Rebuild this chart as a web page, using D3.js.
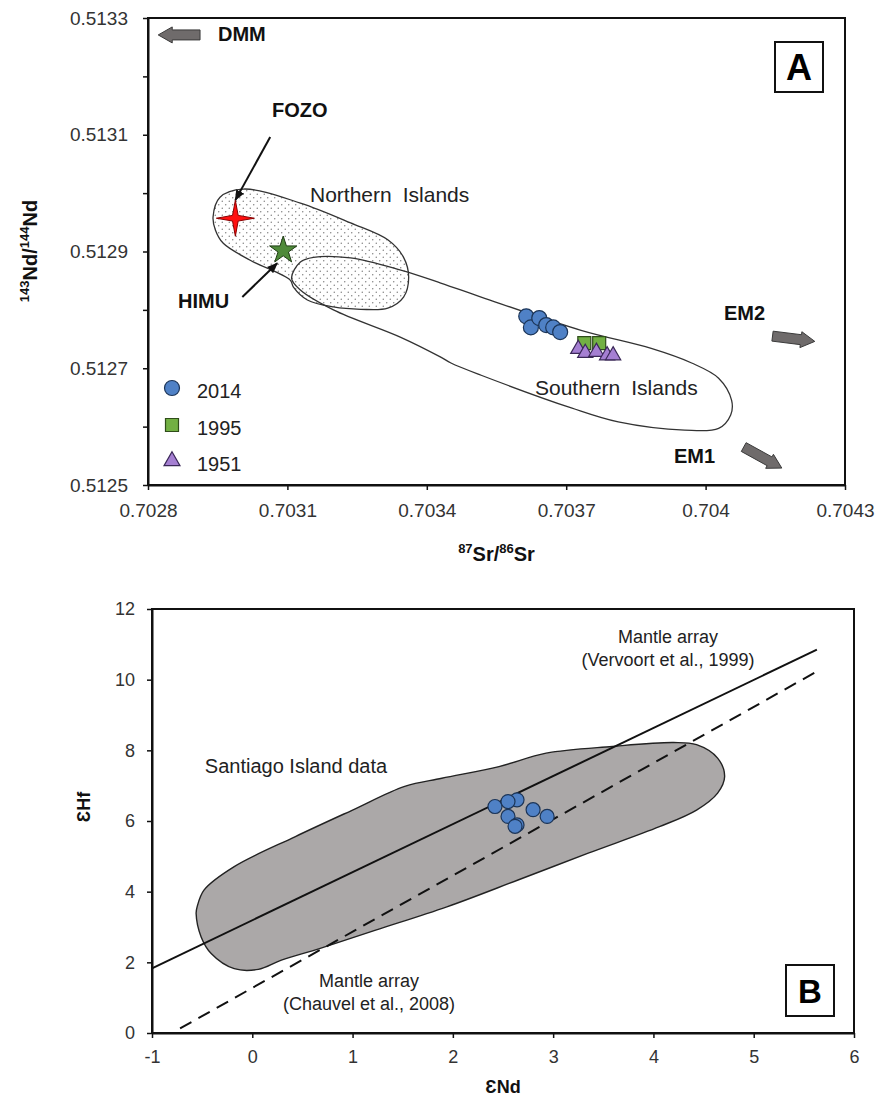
<!DOCTYPE html>
<html>
<head>
<meta charset="utf-8">
<script src="https://cdn.jsdelivr.net/npm/d3@7"></script>
<style>
  body { margin: 0; background: #fff; }
  svg { display: block; }
  text { font-family: "Liberation Sans", Arial, sans-serif; }
</style>
</head>
<body>
<div id="chart"></div>
<script>
// ---------- Panel A data ----------
const srTicks = [0.7028, 0.7031, 0.7034, 0.7037, 0.7040, 0.7043];
const srTickLabels = ["0.7028", "0.7031", "0.7034", "0.7037", "0.704", "0.7043"];
const ndTicks = [0.5125, 0.5126, 0.5127, 0.5128, 0.5129, 0.5130, 0.5131, 0.5132, 0.5133];
const ndTickLabels = ["0.5125", "", "0.5127", "", "0.5129", "", "0.5131", "", "0.5133"];

const legendYears = ["2014", "1995", "1951"];

// [87Sr/86Sr, 143Nd/144Nd]
const pts2014 = [[0.703614, 0.512789], [0.703624, 0.512770], [0.703642, 0.512786],
                 [0.703657, 0.512774], [0.703672, 0.512770], [0.703687, 0.512762]];
const pts1995 = [[0.703739, 0.512743], [0.703771, 0.512743]];
const pts1951 = [[0.703726, 0.512733], [0.703741, 0.512726], [0.703765, 0.512728],
                 [0.703788, 0.512722], [0.703801, 0.512722]];

const fozo = [0.702988, 0.512957];
const himu = [0.703091, 0.512902];

const northernOutline = [
  [0.702940, 0.512959], [0.702955, 0.512993], [0.703005, 0.513007], [0.703128, 0.512983],
  [0.703236, 0.512949], [0.703316, 0.512920], [0.703350, 0.512890], [0.703361, 0.512856],
  [0.703350, 0.512822], [0.703316, 0.512803], [0.703258, 0.512801], [0.703199, 0.512805],
  [0.703143, 0.512817], [0.703113, 0.512839], [0.703106, 0.512851], [0.703020, 0.512885],
  [0.702962, 0.512914], [0.702945, 0.512937]
];
const southernOutline = [
  [0.703109, 0.512854], [0.703128, 0.512882], [0.703156, 0.512890], [0.703236, 0.512889],
  [0.703344, 0.512868], [0.703430, 0.512846], [0.703517, 0.512822], [0.703732, 0.512765],
  [0.703883, 0.512734], [0.703970, 0.512709], [0.704028, 0.512683], [0.704056, 0.512645],
  [0.704054, 0.512620], [0.704028, 0.512597], [0.703955, 0.512594], [0.703812, 0.512608],
  [0.703711, 0.512632], [0.703517, 0.512688], [0.703452, 0.512709], [0.703430, 0.512719],
  [0.703344, 0.512753], [0.703199, 0.512800], [0.703128, 0.512834]
];

// end-member block arrows [tail, tip]
const dmmArrow = [[0.702912, 0.513271], [0.702822, 0.513271]];
const em2Arrow = [[0.704144, 0.512755], [0.704235, 0.512746]];
const em1Arrow = [[0.704082, 0.512565], [0.704164, 0.512529]];
// pointer arrows [from, to]
const fozoPointer = [[0.703063, 0.513096], [0.702988, 0.512988]];
const himuPointer = [[0.703003, 0.512822], [0.703078, 0.512880]];

// ---------- Panel B data ----------
const epsNdTicks = [-1, 0, 1, 2, 3, 4, 5, 6];
const epsHfTicks = [0, 2, 4, 6, 8, 10, 12];

const epsNd = [2.42, 2.64, 2.55, 2.55, 2.64, 2.62, 2.80, 2.94];
const epsHf = [6.41, 6.60, 6.55, 6.13, 5.89, 5.85, 6.32, 6.13];

const vervoortLine = [[-1, 1.83], [5.63, 10.85]];
const chauvelLine = [[-0.72, 0.13], [5.61, 10.2]];

const santiagoOutline = [
  [-0.56, 3.38], [-0.55, 3.57], [-0.48, 4.05], [-0.18, 4.71], [0.43, 5.56], [1.0, 6.31],
  [1.52, 6.98], [1.89, 7.21], [2.46, 7.54], [2.93, 7.92], [3.59, 8.11], [4.2, 8.22],
  [4.43, 8.16], [4.64, 7.78], [4.71, 7.26], [4.64, 6.79], [4.43, 6.31], [4.06, 5.84],
  [3.35, 5.09], [2.65, 4.33], [1.94, 3.57], [1.23, 2.91], [0.67, 2.39], [0.29, 2.06],
  [0.06, 1.80], [-0.18, 1.82], [-0.41, 2.25], [-0.51, 2.72]
];

// ---------- setup ----------
const w = 883, h = 1101;
const svg = d3.select("#chart").append("svg").attr("width", w).attr("height", h);

const defs = svg.append("defs");
const pat = defs.append("pattern")
  .attr("id", "dots").attr("patternUnits", "userSpaceOnUse")
  .attr("width", 7).attr("height", 7);
pat.append("circle").attr("cx", 1.75).attr("cy", 1.75).attr("r", 0.7).attr("fill", "#777");
pat.append("circle").attr("cx", 5.25).attr("cy", 5.25).attr("r", 0.7).attr("fill", "#777");

defs.append("marker")
  .attr("id", "head").attr("markerUnits", "userSpaceOnUse")
  .attr("viewBox", "0 0 10 8").attr("refX", 9).attr("refY", 4)
  .attr("markerWidth", 11).attr("markerHeight", 9).attr("orient", "auto")
  .append("path").attr("d", "M0,0 L10,4 L0,8 Z").attr("fill", "#111");

const font = "'Liberation Sans', Arial, sans-serif";

// ================= Panel A =================
const A = { left: 148, right: 845, top: 18, bottom: 485 };
const xA = d3.scaleLinear().domain([0.7028, 0.7043]).range([A.left, A.right]);
const yA = d3.scaleLinear().domain([0.5125, 0.5133]).range([A.bottom, A.top]);
const gA = svg.append("g");

// regions
const areaLine = d3.line().x(d => xA(d[0])).y(d => yA(d[1])).curve(d3.curveCatmullRomClosed.alpha(0.5));
gA.append("path").attr("d", areaLine(northernOutline))
  .attr("fill", "url(#dots)").attr("stroke", "#333").attr("stroke-width", 1.3);
gA.append("path").attr("d", areaLine(southernOutline))
  .attr("fill", "none").attr("stroke", "#333").attr("stroke-width", 1.3);

gA.append("text").attr("x", 310).attr("y", 202).attr("font-size", 21).attr("fill", "#222")
  .text("Northern").append("tspan").attr("dx", 11).text("Islands");
gA.append("text").attr("x", 535).attr("y", 395).attr("font-size", 21).attr("fill", "#222")
  .text("Southern").append("tspan").attr("dx", 11).text("Islands");

// block arrows
function blockArrow(a) {
  const x0 = xA(a[0][0]), y0 = yA(a[0][1]), x1 = xA(a[1][0]), y1 = yA(a[1][1]);
  const len = Math.hypot(x1 - x0, y1 - y0);
  const ux = (x1 - x0) / len, uy = (y1 - y0) / len, nx = -uy, ny = ux;
  const sw = 5, hw = 8, hl = 14;
  const kx = x1 - ux * hl, ky = y1 - uy * hl;
  return [[x0 + nx * sw, y0 + ny * sw], [kx + nx * sw, ky + ny * sw], [kx + nx * hw, ky + ny * hw],
          [x1, y1], [kx - nx * hw, ky - ny * hw], [kx - nx * sw, ky - ny * sw], [x0 - nx * sw, y0 - ny * sw]];
}
[dmmArrow, em2Arrow, em1Arrow].forEach(a => {
  gA.append("polygon").attr("points", blockArrow(a).map(p => p.join(",")).join(" "))
    .attr("fill", "#6f6b6b").attr("stroke", "#3a3a3a").attr("stroke-width", 1);
});

const bold = (x, y, t, size) => gA.append("text").attr("x", x).attr("y", y)
  .attr("font-size", size).attr("font-weight", "bold").attr("fill", "#111").text(t);
bold(218, 41, "DMM", 20);
bold(724, 320, "EM2", 20);
bold(674, 463, "EM1", 20);
bold(272, 117, "FOZO", 20);
bold(178, 308, "HIMU", 20);

// pointer arrows
[fozoPointer, himuPointer].forEach(p => {
  gA.append("line")
    .attr("x1", xA(p[0][0])).attr("y1", yA(p[0][1]))
    .attr("x2", xA(p[1][0])).attr("y2", yA(p[1][1]))
    .attr("stroke", "#111").attr("stroke-width", 2).attr("marker-end", "url(#head)");
});

// FOZO four point star
const star4 = d3.lineRadial().curve(d3.curveLinearClosed)
  .angle((d, i) => i * Math.PI / 4).radius((d, i) => i % 2 ? 4 : d);
gA.append("path")
  .attr("d", star4([18, 0, 19, 0, 18, 0, 19, 0]))
  .attr("transform", `translate(${xA(fozo[0])},${yA(fozo[1])})`)
  .attr("fill", "#ff1010").attr("stroke", "#8a0000").attr("stroke-width", 1);
// HIMU five point star
gA.append("path")
  .attr("d", d3.symbol(d3.symbolStar, 230)())
  .attr("transform", `translate(${xA(himu[0])},${yA(himu[1])})`)
  .attr("fill", "#4f8a3a").attr("stroke", "#1f3d14").attr("stroke-width", 1);

// sample points
const circleStyle = s => s.attr("fill", "#4f81c6").attr("stroke", "#1c3558").attr("stroke-width", 1.2);
const squareStyle = s => s.attr("fill", "#72b043").attr("stroke", "#2f4d1a").attr("stroke-width", 1.2);
const triStyle = s => s.attr("fill", "#a57fd2").attr("stroke", "#3a2857").attr("stroke-width", 1.2);

gA.selectAll(".c14").data(pts2014).enter().append("circle")
  .attr("cx", d => xA(d[0])).attr("cy", d => yA(d[1])).attr("r", 7.5).call(circleStyle);
gA.selectAll(".s95").data(pts1995).enter().append("path")
  .attr("d", d3.symbol(d3.symbolSquare, 169)())
  .attr("transform", d => `translate(${xA(d[0])},${yA(d[1])})`).call(squareStyle);
gA.selectAll(".t51").data(pts1951).enter().append("path")
  .attr("d", d3.symbol(d3.symbolTriangle, 100)())
  .attr("transform", d => `translate(${xA(d[0])},${yA(d[1])})`).call(triStyle);

// legend
const legY = [388, 425, 461];
gA.append("circle").attr("cx", 172).attr("cy", legY[0]).attr("r", 7.5).call(circleStyle);
gA.append("path").attr("d", d3.symbol(d3.symbolSquare, 169)())
  .attr("transform", `translate(172,${legY[1]})`).call(squareStyle);
gA.append("path").attr("d", d3.symbol(d3.symbolTriangle, 110)())
  .attr("transform", `translate(172,${legY[2]})`).call(triStyle);
legendYears.forEach((t, i) => {
  gA.append("text").attr("x", 197).attr("y", legY[i] + 10).attr("font-size", 20)
    .attr("fill", "#222").text(t);
});

// frame + axes
gA.append("rect").attr("x", A.left).attr("y", A.top)
  .attr("width", A.right - A.left).attr("height", A.bottom - A.top)
  .attr("fill", "none").attr("stroke", "#111").attr("stroke-width", 2);

function styleAxis(g, size) {
  g.attr("font-family", font);
  g.select(".domain").attr("stroke-width", 2).attr("stroke", "#111");
  g.selectAll(".tick line").attr("stroke-width", 1.5).attr("stroke", "#111");
  g.selectAll(".tick text").attr("font-size", size).attr("fill", "#333");
}
gA.append("g").attr("transform", `translate(0,${A.bottom})`)
  .call(d3.axisBottom(xA).tickValues(srTicks).tickSize(5).tickSizeOuter(0).tickPadding(14)
    .tickFormat((d, i) => srTickLabels[i]))
  .call(g => styleAxis(g, 19));
gA.append("g").attr("transform", `translate(${A.left},0)`)
  .call(d3.axisLeft(yA).tickValues(ndTicks).tickSize(5).tickSizeOuter(0).tickPadding(15)
    .tickFormat((d, i) => ndTickLabels[i]))
  .call(g => styleAxis(g, 19));

// panel tag
gA.append("rect").attr("x", 775).attr("y", 42).attr("width", 48).attr("height", 50)
  .attr("fill", "#fff").attr("stroke", "#111").attr("stroke-width", 2);
gA.append("text").attr("x", 799).attr("y", 80).attr("text-anchor", "middle")
  .attr("font-size", 36).attr("font-weight", "bold").text("A");

// axis titles
const yTitleA = gA.append("text").attr("transform", "translate(37,251) rotate(-90)")
  .attr("text-anchor", "middle").attr("font-weight", "bold").attr("font-size", 20).attr("fill", "#111");
yTitleA.append("tspan").attr("font-size", 13).attr("dy", -8).text("143");
yTitleA.append("tspan").attr("dy", 8).text("Nd/");
yTitleA.append("tspan").attr("font-size", 13).attr("dy", -8).text("144");
yTitleA.append("tspan").attr("dy", 8).text("Nd");

const xTitleA = gA.append("text").attr("x", (A.left + A.right) / 2).attr("y", 561)
  .attr("text-anchor", "middle").attr("font-weight", "bold").attr("font-size", 20).attr("fill", "#111");
xTitleA.append("tspan").attr("font-size", 13).attr("dy", -8).text("87");
xTitleA.append("tspan").attr("dy", 8).text("Sr/");
xTitleA.append("tspan").attr("font-size", 13).attr("dy", -8).text("86");
xTitleA.append("tspan").attr("dy", 8).text("Sr");

// ================= Panel B =================
const B = { left: 152, right: 854, top: 609, bottom: 1033 };
const xB = d3.scaleLinear().domain([-1, 6]).range([B.left, B.right]);
const yB = d3.scaleLinear().domain([0, 12]).range([B.bottom, B.top]);
const gB = svg.append("g");

const blobLine = d3.line().x(d => xB(d[0])).y(d => yB(d[1])).curve(d3.curveCatmullRomClosed.alpha(0.5));
gB.append("path").attr("d", blobLine(santiagoOutline))
  .attr("fill", "#aba8a8").attr("stroke", "#222").attr("stroke-width", 1.4);

const seg = d3.line().x(d => xB(d[0])).y(d => yB(d[1]));
gB.append("path").attr("d", seg(vervoortLine)).attr("fill", "none")
  .attr("stroke", "#111").attr("stroke-width", 2);
gB.append("path").attr("d", seg(chauvelLine)).attr("fill", "none")
  .attr("stroke", "#111").attr("stroke-width", 2).attr("stroke-dasharray", "13,8");

gB.selectAll(".pt").data(epsNd).enter().append("circle")
  .attr("cx", d => xB(d)).attr("cy", (d, i) => yB(epsHf[i])).attr("r", 7).call(circleStyle);

const txt = (x, y, t, size) => gB.append("text").attr("x", x).attr("y", y)
  .attr("text-anchor", "middle").attr("font-size", size).attr("fill", "#222").text(t);
txt(668, 643, "Mantle array", 18);
txt(668, 666, "(Vervoort et al., 1999)", 18);
txt(369, 987, "Mantle array", 18);
txt(369, 1010, "(Chauvel et al., 2008)", 18);
txt(296, 773, "Santiago Island data", 20);

gB.append("rect").attr("x", B.left).attr("y", B.top)
  .attr("width", B.right - B.left).attr("height", B.bottom - B.top)
  .attr("fill", "none").attr("stroke", "#111").attr("stroke-width", 2);

gB.append("g").attr("transform", `translate(0,${B.bottom})`)
  .call(d3.axisBottom(xB).tickValues(epsNdTicks).tickSize(5).tickSizeOuter(0).tickPadding(12)
    .tickFormat(d => String(d)))
  .call(g => styleAxis(g, 18));
gB.append("g").attr("transform", `translate(${B.left},0)`)
  .call(d3.axisLeft(yB).tickValues(epsHfTicks).tickSize(5).tickSizeOuter(0).tickPadding(12)
    .tickFormat(d => String(d)))
  .call(g => styleAxis(g, 18));

gB.append("rect").attr("x", 786).attr("y", 965).attr("width", 48).attr("height", 51)
  .attr("fill", "#fff").attr("stroke", "#111").attr("stroke-width", 2);
gB.append("text").attr("x", 810).attr("y", 1003).attr("text-anchor", "middle")
  .attr("font-size", 33).attr("font-weight", "bold").text("B");

gB.append("text").attr("transform", "translate(90,807) rotate(-90)")
  .attr("text-anchor", "middle").attr("font-weight", "bold").attr("font-size", 18)
  .attr("fill", "#111").text("ƐHf");
gB.append("text").attr("x", (B.left + B.right) / 2).attr("y", 1093)
  .attr("text-anchor", "middle").attr("font-weight", "bold").attr("font-size", 18)
  .attr("fill", "#111").text("ƐNd");
</script>
</body>
</html>
